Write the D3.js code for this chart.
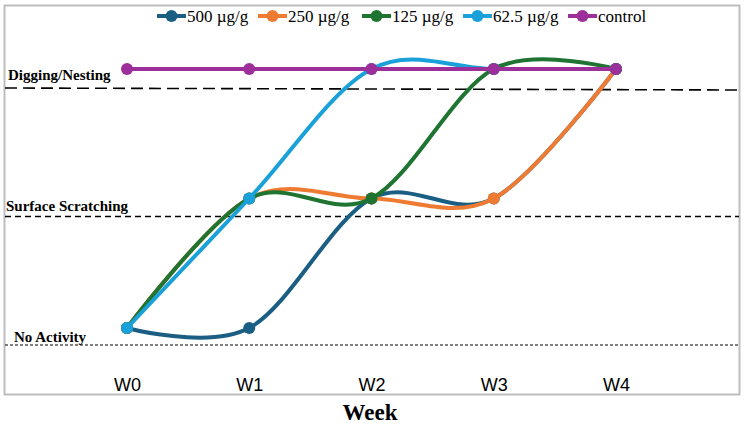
<!DOCTYPE html>
<html><head><meta charset="utf-8">
<script src="https://cdn.jsdelivr.net/npm/d3@7"></script>
<style>body{margin:0;background:#fff}svg{display:block}</style>
</head><body><svg id="c" width="747" height="425"></svg>
<script>
const weeks = ["W0","W1","W2","W3","W4"];
const seriesNames = ["500 µg/g","250 µg/g","125 µg/g","62.5 µg/g","control"];
const s500 = [1,1,2,2,3];
const s250 = [1,2,2,2,3];
const s125 = [1,2,2,3,3];
const s62 = [1,2,3,3,3];
const sControl = [3,3,3,3,3];
const colors = ["#1b5e83","#ef7b32","#1e7430","#1aa1da","#9c2f9a"];
const levelLabels = ["No Activity","Surface Scratching","Digging/Nesting"];
const levelValues = [1,2,3];

const svg = d3.select("#c");
const x = d3.scalePoint().domain(weeks).range([127,616]);
const y = d3.scaleLinear().domain([1,3]).range([328,69]);

// frame
svg.append("rect").attr("x",4.5).attr("y",5.5).attr("width",735).attr("height",389)
  .attr("fill","none").attr("stroke","#bdbdbd").attr("stroke-width",2);

// level dashed lines and labels
const dashStyles = [{d:"3,2",w:1.1,dy:17},{d:"6,4",w:1.5,dy:18},{d:"12,6",w:1.6,dy:19}];
levelValues.forEach((v,i)=>{
  const yy = y(v)+dashStyles[i].dy;
  svg.append("line").attr("x1",5).attr("x2",739).attr("y1",yy).attr("y2",yy+(i===2?2:0))
    .attr("stroke","#000").attr("stroke-width",dashStyles[i].w).attr("stroke-dasharray",dashStyles[i].d);
});
const labelPos = [{x:14,dy:14},{x:6,dy:12},{x:8,dy:11}];
levelValues.forEach((v,i)=>{
  svg.append("text").attr("x",labelPos[i].x).attr("y",y(v)+labelPos[i].dy)
    .attr("font-family","Liberation Serif, serif").attr("font-weight","bold").attr("font-size",15)
    .text(levelLabels[i]);
});

// x axis labels
const ax = svg.append("g").attr("transform","translate(0,378)")
  .call(d3.axisBottom(x).tickSize(0).tickPadding(0));
ax.select(".domain").remove();
ax.selectAll("text").attr("font-family","Liberation Sans, Arial, sans-serif").attr("font-size",18).attr("fill","#000");
svg.append("text").attr("x",370).attr("y",420).attr("text-anchor","middle")
  .attr("font-family","Liberation Serif, serif").attr("font-weight","bold").attr("font-size",23).text("Week");

// series
const all = [s500,s250,s125,s62,sControl];
const line = d3.line().x((d,i)=>x(weeks[i])).y(d=>y(d)).curve(d3.curveCardinal.tension(0));
all.forEach((s,k)=>{
  const g = svg.append("g");
  g.append("path").attr("d",line(s)).attr("fill","none").attr("stroke",colors[k]).attr("stroke-width",4);
  g.selectAll("circle").data(s).join("circle").attr("cx",(d,i)=>x(weeks[i])).attr("cy",d=>y(d))
    .attr("r",6).attr("fill",colors[k]);
});

// legend
const legX = [157,258,362,463,568];
seriesNames.forEach((n,k)=>{
  const g = svg.append("g").attr("transform",`translate(${legX[k]},16)`);
  g.append("line").attr("x1",0).attr("x2",29).attr("stroke",colors[k]).attr("stroke-width",4);
  g.append("circle").attr("cx",14.5).attr("r",6).attr("fill",colors[k]);
  g.append("text").attr("x",30).attr("y",6).attr("font-family","Liberation Serif, serif").attr("font-size",17).text(n);
});
</script></body></html>
